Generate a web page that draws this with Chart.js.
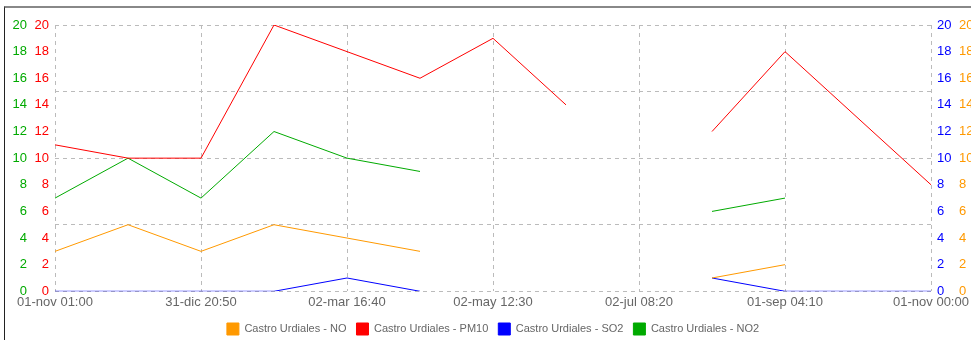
<!DOCTYPE html>
<html>
<head>
<meta charset="utf-8">
<script src="https://cdn.jsdelivr.net/npm/chart.js@4/dist/chart.umd.min.js"></script>
<style>
  html, body { margin: 0; padding: 0; overflow: hidden; background: #fff; }
  #frame {
    position: absolute; left: 4px; top: 6px;
    width: 1000px; height: 360px;
    border-left: 1px solid #222; border-top: 2px solid #888;
  }
  #wrap { position: absolute; left: 0; top: 0; width: 980px; height: 337px; }
</style>
</head>
<body>
<div id="frame"><div id="wrap"><canvas id="myChart"></canvas></div></div>
<script>
// one point per month, every other one gets a tick label
const labels = ['01-nov 01:00', '01-dic 10:55', '31-dic 20:50', '31-ene 06:45', '02-mar 16:40',
  '02-abr 02:35', '02-may 12:30', '01-jun 22:25', '02-jul 08:20', '01-ago 18:15',
  '01-sep 04:10', '01-oct 14:05', '01-nov 00:00'];

const noValues = [3, 5, 3, 5, 4, 3, null, null, null, 1, 2, null, null];
const pm10Values = [11, 10, 10, 20, 18, 16, 19, 14, null, 12, 18, 13, 8];
const so2Values = [0, 0, 0, 0, 1, 0, null, null, null, 1, 0, 0, 0];
const no2Values = [7, 10, 7, 12, 10, 9, null, null, null, 6, 7, null, null];

const seriesNames = ['Castro Urdiales - NO', 'Castro Urdiales - PM10',
  'Castro Urdiales - SO2', 'Castro Urdiales - NO2'];

const ORANGE = 'rgb(255,153,0)';
const RED = 'rgb(255,0,0)';
const BLUE = 'rgb(0,0,255)';
const GREEN = 'rgb(0,170,0)';

Chart.defaults.font.family = '"Liberation Sans", Arial, sans-serif';
Chart.defaults.color = '#666';

function line(label, values, color, axis) {
  return {
    label: label,
    data: values,
    borderColor: color,
    backgroundColor: color,
    borderWidth: 1,
    pointRadius: 0,
    pointHoverRadius: 0,
    tension: 0,
    spanGaps: false,
    yAxisID: axis,
  };
}

function valueAxis(position, color) {
  return {
    position: position,
    min: 0,
    max: 20,
    border: {display: false},
    grid: {display: false, drawTicks: false},
    ticks: {stepSize: 2, color: color, font: {size: 13}, padding: 6},
    afterFit: function(scale) {
      scale.width = 22; // fixed column width for the stacked axes
    },
  };
}

const ctx = document.getElementById('myChart');
new Chart(ctx, {
  type: 'line',
  data: {
    labels: labels,
    datasets: [
      line(seriesNames[0], noValues, ORANGE, 'yNO'),
      line(seriesNames[1], pm10Values, RED, 'yPM10'),
      line(seriesNames[2], so2Values, BLUE, 'ySO2'),
      line(seriesNames[3], no2Values, GREEN, 'yNO2'),
    ],
  },
  options: {
    responsive: true,
    maintainAspectRatio: false,
    animation: false,
    layout: {padding: {top: 17, left: 6, right: 10, bottom: 0}},
    plugins: {
      legend: {
        position: 'bottom',
        labels: {boxWidth: 12, boxHeight: 12, font: {size: 11}, color: '#666', padding: 10},
      },
      tooltip: {enabled: false},
    },
    scales: {
      x: {
        border: {display: false, dash: [4, 4]},
        grid: {color: '#bbb', drawTicks: false},
        ticks: {
          autoSkip: false,
          maxRotation: 0,
          font: {size: 13, lineHeight: 0.9},
          padding: 5,
          callback: function(value, index) {
            // only every other month is labelled, the rest has no grid line
            return index % 2 === 0 ? this.getLabelForValue(value) : null;
          },
        },
      },
      // first declared sits next to the plot
      yPM10: valueAxis('left', RED),
      yNO2: valueAxis('left', GREEN),
      ySO2: valueAxis('right', BLUE),
      yNO: valueAxis('right', ORANGE),
      // background grid every 5 units
      yGrid: {
        position: 'left',
        min: 0,
        max: 20,
        border: {display: false, dash: [4, 4]},
        grid: {color: '#bbb', drawTicks: false},
        ticks: {display: false, stepSize: 5},
        afterFit: function(scale) {
          scale.width = 0;
        },
      },
    },
  },
});
</script>
</body>
</html>
